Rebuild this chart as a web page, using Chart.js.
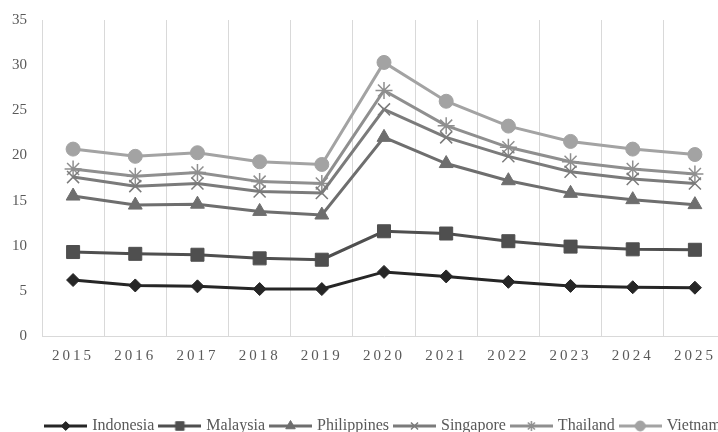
<!DOCTYPE html>
<html>
<head>
<meta charset="utf-8">
<script src="https://cdn.jsdelivr.net/npm/chart.js@4.4.1/dist/chart.umd.min.js"></script>
<style>
  html, body { margin: 0; padding: 0; background: #fff; overflow: hidden; }
  #wrap { position: relative; width: 768px; height: 444px; }
</style>
</head>
<body>
<div id="wrap"><canvas id="lineChart"></canvas></div>
<script>
// Séries par pays, 2015-2025
const years = ['2015', '2016', '2017', '2018', '2019', '2020', '2021', '2022', '2023', '2024', '2025'];
const indonesia   = [6.2, 5.6, 5.5, 5.2, 5.2, 7.1, 6.6, 6.0, 5.55, 5.4, 5.35];
const malaysia    = [9.3, 9.1, 9.0, 8.6, 8.45, 11.6, 11.35, 10.5, 9.9, 9.6, 9.55];
const philippines = [15.5, 14.5, 14.6, 13.8, 13.4, 22.0, 19.1, 17.2, 15.8, 15.1, 14.55];
const singapore   = [17.6, 16.6, 16.9, 16.0, 15.85, 25.1, 22.0, 19.9, 18.2, 17.4, 16.9];
const thailand    = [18.5, 17.7, 18.1, 17.1, 16.9, 27.2, 23.3, 20.9, 19.3, 18.5, 17.95];
const vietnam     = [20.7, 19.9, 20.3, 19.3, 19.0, 30.3, 26.0, 23.25, 21.55, 20.7, 20.1];
const yTicks = [0, 5, 10, 15, 20, 25, 30, 35];

const FONT = 'Liberation Serif';
const TICK_COLOR = '#595959';
const GRID_COLOR = '#d9d9d9';

const series = [
    { label: 'Indonesia',   data: indonesia,   color: '#262626', style: 'rectRot',  radius: 6.5, legendRadius: 4.5, bw: 1 },
    { label: 'Malaysia',    data: malaysia,    color: '#4f4f4f', style: 'rect',     radius: 9.2, legendRadius: 6,   bw: 1 },
    { label: 'Philippines', data: philippines, color: '#6e6e6e', style: 'triangle', radius: 8,   legendRadius: 5.5, bw: 1 },
    { label: 'Singapore',   data: singapore,   color: '#7b7b7b', style: 'crossRot', radius: 8.5, legendRadius: 5,   bw: 1.5 },
    { label: 'Thailand',    data: thailand,    color: '#8f8f8f', style: 'star',     radius: 8.5, legendRadius: 5,   bw: 1.5 },
    { label: 'Vietnam',     data: vietnam,     color: '#a3a3a3', style: 'circle',   radius: 7,   legendRadius: 5,   bw: 1 }
];

// Petite image ligne + marqueur pour la légende
function legendSwatch(s) {
    const c = document.createElement('canvas');
    c.width = 43;
    c.height = 14;
    const ctx = c.getContext('2d');
    ctx.strokeStyle = s.color;
    ctx.lineWidth = 3;
    ctx.beginPath();
    ctx.moveTo(0, 7);
    ctx.lineTo(43, 7);
    ctx.stroke();
    ctx.fillStyle = s.color;
    ctx.lineWidth = s.bw;
    Chart.helpers.drawPoint(ctx, { pointStyle: s.style, radius: s.legendRadius, rotation: 0, borderWidth: s.bw }, 21.5, 7);
    return c;
}

// Espacement des lettres sur les années de l'axe X
const spacedTicks = {
    id: 'spacedTicks',
    beforeDraw(chart) {
        const x = chart.scales.x;
        if (!x || x._spaced) return;
        const orig = x.drawLabels;
        x.drawLabels = function(area) {
            this.ctx.save();
            this.ctx.letterSpacing = '3px';
            orig.call(this, area);
            this.ctx.restore();
        };
        x._spaced = true;
    }
};

const ctx = document.getElementById('lineChart').getContext('2d');
new Chart(ctx, {
    type: 'line',
    data: {
        labels: years,
        datasets: series.map(s => ({
            label: s.label,
            data: s.data,
            borderColor: s.color,
            backgroundColor: s.color,
            borderWidth: 3,
            tension: 0,
            pointStyle: s.style,
            pointRadius: s.radius,
            pointBorderWidth: s.bw,
            pointBackgroundColor: s.color,
            pointBorderColor: s.color,
            fill: false,
            yAxisID: 'y'
        }))
    },
    options: {
        responsive: true,
        maintainAspectRatio: false,
        animation: false,
        layout: {
            padding: { top: 20, left: 0, right: 0, bottom: 0 }
        },
        plugins: {
            tooltip: { enabled: false },
            legend: {
                position: 'bottom',
                labels: {
                    usePointStyle: true,
                    pointStyleWidth: 37,
                    padding: 7,
                    color: TICK_COLOR,
                    font: { family: FONT, size: 16 },
                    generateLabels(chart) {
                        return series.map((s, i) => ({
                            text: s.label,
                            fillStyle: s.color,
                            strokeStyle: s.color,
                            fontColor: TICK_COLOR,
                            lineWidth: 0,
                            pointStyle: legendSwatch(s),
                            hidden: false,
                            datasetIndex: i
                        }));
                    }
                }
            }
        },
        scales: {
            x: {
                offset: true,
                grid: {
                    display: true,
                    offset: true,
                    color: GRID_COLOR,
                    lineWidth: 1,
                    drawTicks: false
                },
                border: { display: true, color: GRID_COLOR, width: 1 },
                ticks: {
                    color: TICK_COLOR,
                    padding: 11,
                    maxRotation: 0,
                    autoSkip: false,
                    font: { family: FONT, size: 15 }
                },
                afterFit(axis) {
                    axis.height = 75;
                }
            },
            y: {
                min: 0,
                max: 35,
                grid: { display: false, drawTicks: false },
                border: { display: false },
                afterBuildTicks(axis) {
                    axis.ticks = yTicks.map(v => ({ value: v }));
                },
                ticks: {
                    color: TICK_COLOR,
                    padding: 15,
                    font: { family: FONT, size: 15 }
                },
                afterFit(axis) {
                    axis.width = 42;
                    // seule la demi-hauteur du libellé compte en haut/bas
                    axis.paddingTop = 9;
                    axis.paddingBottom = 9;
                }
            },
            // marge droite vide, même largeur que l'axe Y
            spacer: {
                position: 'right',
                min: 0,
                max: 35,
                grid: { display: false, drawTicks: false },
                border: { display: false },
                ticks: { display: false },
                afterFit(axis) {
                    axis.width = 42;
                    axis.paddingTop = 0;
                    axis.paddingBottom = 0;
                }
            }
        }
    },
    plugins: [spacedTicks]
});
</script>
</body>
</html>
